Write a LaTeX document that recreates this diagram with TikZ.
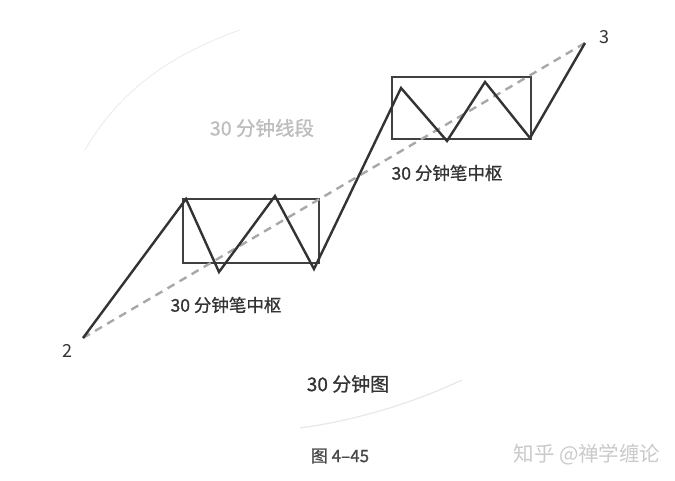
\documentclass[tikz,border=0pt]{standalone}
\usepackage{fontspec}
\setmainfont{Noto Sans CJK SC}
\newfontfamily\hubfont{Noto Sans CJK SC}[RawFeature={embolden=0.9}]
\usetikzlibrary{positioning}
\definecolor{Ink}{HTML}{333333}
\definecolor{BoxLine}{HTML}{404040}
\definecolor{Dash}{HTML}{A8A8A8}
\definecolor{Faint}{HTML}{BDBDBD}
\definecolor{Smudge}{HTML}{EEEEEE}
\tikzset{
  pricepath/.style={draw=Ink,line width=2.4pt,line join=miter},
  hubbox/.style={draw=BoxLine,line width=2.4pt},
  trendline/.style={draw=Dash,line width=2.4pt,dash pattern=on 8pt off 6pt},
  hublabel/.style={font=\hubfont\fontsize{17.5}{20}\selectfont,text=Ink,inner sep=0pt},
  endlabel/.style={font=\fontsize{18}{20}\selectfont,text=Ink,inner sep=0pt},
  caption/.style={font=\hubfont\fontsize{17}{20}\selectfont,text=Ink!90,inner sep=0pt},
  watermark/.style={font=\fontsize{20.5}{24}\selectfont,text=Faint!80,inner sep=0pt}
}
\begin{document}
\begin{tikzpicture}[x=1pt,y=-1pt]
  \useasboundingbox[fill=white] (0,0) rectangle (675,481);
  % faint scan arcs
  \draw[Smudge,line width=1pt] (85,150) .. controls (120,90) and (170,55) .. (240,30);
  \draw[Smudge!80!gray!60,line width=1.2pt] (300,428) .. controls (360,420) and (420,400) .. (462,380);
  % turning points
  \coordinate (p2) at (83,338);
  \coordinate (a1) at (186,199);
  \coordinate (a2) at (219,272);
  \coordinate (a3) at (275,196);
  \coordinate (a4) at (314,269);
  \coordinate (b1) at (401,88);
  \coordinate (b2) at (447,141);
  \coordinate (b3) at (485,82);
  \coordinate (b4) at (530,138);
  \coordinate (p3) at (585,43);
  % hubs
  \draw[hubbox] (183,199) rectangle (319,263);
  \draw[hubbox] (392,77) rectangle (531,139);
  \draw[trendline] (p2) -- (p3);
  \draw[pricepath] (p2) -- (a1) -- (a2) -- (a3) -- (a4) -- (b1) -- (b2) -- (b3) -- (b4) -- (p3);
  % labels
  \node[endlabel] (l2) at (67,351) {2};
  \node[endlabel] (l3) at (604,37) {3};
  \node[hublabel,text=Faint,font=\hubfont\fontsize{19.5}{22}\selectfont] (seg) at (262,128) {30 分钟线段};
  \node[hublabel] (hub1) at (226,305) {30 分钟笔中枢};
  \node[hublabel] (hub2) at (447,173) {30 分钟笔中枢};
  \node[hublabel,font=\hubfont\fontsize{19}{22}\selectfont] (chart) at (348,384) {30 分钟图};
  \node[caption] (fig) at (340,456) {图 4–45};
  \node[watermark] (wm) at (587,455) {知乎 @禅学缠论};
\end{tikzpicture}
\end{document}
